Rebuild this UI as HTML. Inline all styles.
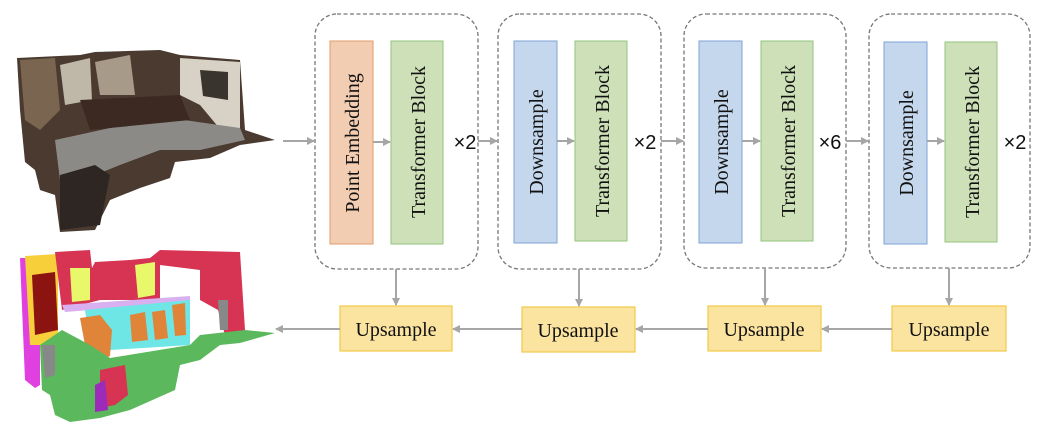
<!DOCTYPE html>
<html><head><meta charset="utf-8"><style>
html,body{margin:0;padding:0;background:#fff;}
body{width:1052px;height:430px;overflow:hidden;position:relative;font-family:"Liberation Serif",serif;}
</style></head><body>
<svg width="1052" height="430" viewBox="0 0 1052 430" xmlns="http://www.w3.org/2000/svg" style="position:absolute;left:0;top:0">
<defs>
<marker id="ah" markerWidth="8" markerHeight="8" refX="7" refY="4" orient="auto" markerUnits="userSpaceOnUse">
<path d="M0,0 L8,4 L0,8 Z" fill="#a6a6a6"/></marker>
</defs>
<g>
<polygon points="17,58 80,55 95,52 160,50 180,55 240,60 245,130 275,140 240,145 210,158 175,162 170,178 140,188 110,200 95,230 60,232 55,195 40,190 35,170 25,162 20,110" fill="#4a3a30"/>
<polygon points="20,60 55,58 60,110 40,130 25,120" fill="#7a6650"/>
<polygon points="60,65 90,58 92,100 65,105" fill="#bfb8a8"/>
<polygon points="95,62 130,55 135,95 100,95" fill="#a89a88"/>
<polygon points="180,58 240,62 240,130 225,135 200,105 180,95" fill="#d8d2c6"/>
<polygon points="200,70 228,72 228,100 203,96" fill="#3a342e"/>
<polygon points="55,140 110,128 170,118 240,128 245,140 200,150 160,150 120,165 95,175 60,180" fill="#8c8a86"/>
<polygon points="60,175 95,165 110,175 100,225 60,230" fill="#2e2622"/>
<polygon points="80,100 180,95 190,120 90,130" fill="#3c2a22"/>
</g>
<g>
<polygon points="20,258 40,258 40,385 35,388 25,380" fill="#e040e0"/>
<polygon points="25,256 58,254 58,345 30,345" fill="#f7cf3a"/>
<polygon points="32,275 55,272 58,330 35,335" fill="#8b1410"/>
<polygon points="55,252 90,250 92,268 95,262 130,260 150,258 160,250 240,252 245,330 225,335 218,310 200,300 200,270 160,265 160,300 100,300 62,310" fill="#d73352"/>
<polygon points="70,268 90,268 90,300 72,302" fill="#e8f86a"/>
<polygon points="135,265 155,262 155,295 138,298" fill="#e8f86a"/>
<polygon points="62,305 190,296 190,302 65,312" fill="#d8b0f0"/>
<polygon points="85,310 190,300 190,345 110,350 90,345" fill="#6ee6e6"/>
<polygon points="80,318 100,315 112,330 110,356 100,360 85,345" fill="#e0843a"/>
<polygon points="130,315 145,312 148,340 132,342" fill="#e0843a"/>
<polygon points="152,312 165,310 168,338 155,340" fill="#e0843a"/>
<polygon points="172,305 185,303 186,335 175,336" fill="#e0843a"/>
<polygon points="40,345 62,330 90,345 110,358 190,345 200,335 245,330 275,333 240,343 220,345 200,360 180,365 175,390 130,410 100,418 70,422 55,415 50,395 42,390" fill="#5cb85c"/>
<polygon points="42,345 55,345 55,375 45,378" fill="#888"/>
<polygon points="218,300 228,300 228,330 220,330" fill="#888"/>
<polygon points="100,370 125,365 128,395 115,405 100,408" fill="#d73352"/>
<polygon points="95,385 105,380 108,410 95,412" fill="#9b2bb8"/>
</g>

<g fill="none" stroke="#777" stroke-width="1.3" stroke-dasharray="4,2.5">
<rect x="315" y="14" width="163" height="255" rx="22"/>
<rect x="498" y="14" width="163" height="255" rx="22"/>
<rect x="684" y="14" width="162" height="254" rx="22"/>
<rect x="869" y="14" width="161" height="254" rx="22"/>
</g>
<rect x="330" y="41" width="43" height="203" fill="#f2cdb1" stroke="#e39a6c" stroke-width="1"/>
<rect x="391" y="41" width="52" height="203" fill="#cde0b7" stroke="#93c47d" stroke-width="1"/>
<rect x="514" y="41" width="43" height="202" fill="#c4d7ec" stroke="#7ea6d8" stroke-width="1"/>
<rect x="575" y="41" width="52" height="200" fill="#cde0b7" stroke="#93c47d" stroke-width="1"/>
<rect x="699" y="41" width="43" height="202" fill="#c4d7ec" stroke="#7ea6d8" stroke-width="1"/>
<rect x="761" y="41" width="52" height="200" fill="#cde0b7" stroke="#93c47d" stroke-width="1"/>
<rect x="884" y="42" width="43" height="202" fill="#c4d7ec" stroke="#7ea6d8" stroke-width="1"/>
<rect x="945" y="42" width="52" height="200" fill="#cde0b7" stroke="#93c47d" stroke-width="1"/>
<g fill="#fbe4a0" stroke="#f3c94a" stroke-width="1.2">
<rect x="340" y="306" width="112" height="45"/>
<rect x="522" y="307" width="113" height="45"/>
<rect x="708" y="306" width="113" height="45"/>
<rect x="892" y="306" width="114" height="45"/>
</g>
<g stroke="#a6a6a6" stroke-width="2" fill="none" marker-end="url(#ah)">
<line x1="283" y1="141" x2="314" y2="141"/>
<line x1="373" y1="142" x2="390" y2="142"/>
<line x1="478" y1="141" x2="497" y2="141"/>
<line x1="557" y1="141" x2="574" y2="141"/>
<line x1="661" y1="141" x2="683" y2="141"/>
<line x1="742" y1="141" x2="760" y2="141"/>
<line x1="846" y1="141" x2="868" y2="141"/>
<line x1="927" y1="141" x2="944" y2="141"/>
<line x1="396" y1="269" x2="396" y2="305"/>
<line x1="579" y1="269" x2="579" y2="306"/>
<line x1="765" y1="268" x2="765" y2="305"/>
<line x1="949" y1="268" x2="949" y2="305"/>
<line x1="892" y1="329" x2="822" y2="329"/>
<line x1="708" y1="329" x2="636" y2="329"/>
<line x1="522" y1="329" x2="453" y2="329"/>
<line x1="340" y1="329" x2="276" y2="329"/>
</g>
<g font-family="Liberation Serif, serif" font-size="20" fill="#111" text-anchor="middle">
<text transform="translate(359,143) rotate(-90)">Point Embedding</text>
<text transform="translate(425,142) rotate(-90)">Transformer Block</text>
<text transform="translate(543,142) rotate(-90)">Downsample</text>
<text transform="translate(609,141) rotate(-90)">Transformer Block</text>
<text transform="translate(728,142) rotate(-90)">Downsample</text>
<text transform="translate(795,141) rotate(-90)">Transformer Block</text>
<text transform="translate(913,143) rotate(-90)">Downsample</text>
<text transform="translate(979,142) rotate(-90)">Transformer Block</text>
<text x="396" y="336">Upsample</text>
<text x="578" y="337">Upsample</text>
<text x="764" y="336">Upsample</text>
<text x="949" y="336">Upsample</text>
</g>
<g font-family="Liberation Sans, sans-serif" font-size="20" fill="#111" text-anchor="middle">
<text x="465" y="149">×2</text>
<text x="645" y="149">×2</text>
<text x="830" y="149">×6</text>
<text x="1015" y="149">×2</text>
</g>
</svg>
</body></html>
